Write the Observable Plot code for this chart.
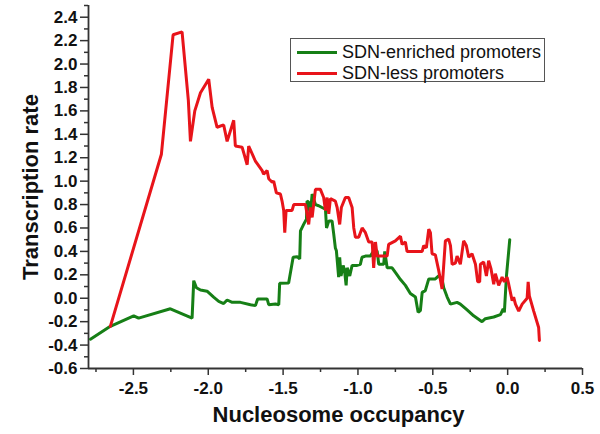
<!DOCTYPE html>
<html>
<head>
<meta charset="utf-8">
<script src="https://cdn.jsdelivr.net/npm/d3@7"></script>
<script src="https://cdn.jsdelivr.net/npm/@observablehq/plot@0.6"></script>
<style>
  html, body { margin: 0; padding: 0; background: #fff; }
  #wrap { position: relative; width: 600px; height: 434px; font-family: "Liberation Sans", Arial, sans-serif; }
  #legend { position: absolute; left: 290px; top: 38px; width: 255px; height: 44px; border: 1px solid #555; background: #fff; box-sizing: border-box; }
  .row { position: absolute; left: 6px; height: 20px; display: flex; align-items: center; font-size: 18px; color: #111; white-space: nowrap; }
  .sw { width: 40px; height: 3px; margin-right: 5px; }
</style>
</head>
<body>
<div id="wrap"></div>
<script>
const seriesNames = ["SDN-enriched promoters", "SDN-less promoters"];
const seriesColors = ["#167f16", "#e8141a"];

const greenX = [-2.787,-2.654,-2.498,-2.465,-2.253,-2.108,-2.097,-2.079,-2.052,-2.008,-1.964,-1.93,-1.897,-1.874,-1.84,-1.785,-1.718,-1.685,-1.67,-1.607,-1.596,-1.551,-1.529,-1.523,-1.463,-1.433,-1.406,-1.389,-1.384,-1.362,-1.344,-1.34,-1.329,-1.318,-1.306,-1.284,-1.262,-1.24,-1.217,-1.21,-1.195,-1.173,-1.162,-1.151,-1.144,-1.129,-1.122,-1.113,-1.099,-1.09,-1.079,-1.072,-1.055,-1.039,-1.006,-0.984,-0.973,-0.95,-0.917,-0.895,-0.872,-0.861,-0.828,-0.821,-0.805,-0.772,-0.75,-0.716,-0.683,-0.65,-0.616,-0.598,-0.583,-0.571,-0.55,-0.527,-0.483,-0.461,-0.438,-0.427,-0.404,-0.382,-0.338,-0.316,-0.271,-0.227,-0.171,-0.149,-0.093,-0.048,-0.03,-0.022,-0.008,0.014];
const greenY = [-0.35,-0.24,-0.15,-0.17,-0.09,-0.17,0.15,0.09,0.07,0.06,0.01,-0.026,-0.045,-0.015,-0.035,-0.035,-0.055,-0.063,-0.006,-0.006,-0.055,-0.05,-0.055,0.127,0.13,0.35,0.355,0.335,0.576,0.633,0.676,0.83,0.82,0.72,0.89,0.80,0.79,0.775,0.76,0.60,0.66,0.66,0.55,0.43,0.405,0.18,0.35,0.19,0.28,0.24,0.11,0.26,0.19,0.28,0.28,0.29,0.35,0.36,0.36,0.405,0.405,0.29,0.29,0.40,0.26,0.26,0.22,0.16,0.11,0.04,0.01,-0.12,-0.105,0.05,0.065,0.165,0.165,0.19,0.165,0.09,0.01,-0.05,-0.035,-0.05,-0.10,-0.15,-0.20,-0.175,-0.16,-0.14,-0.09,-0.12,0.19,0.50];

const redX = [-2.654,-2.313,-2.235,-2.175,-2.133,-2.119,-2.09,-2.052,-1.997,-1.974,-1.941,-1.897,-1.874,-1.83,-1.819,-1.774,-1.74,-1.73,-1.685,-1.64,-1.63,-1.607,-1.596,-1.573,-1.563,-1.545,-1.518,-1.507,-1.496,-1.489,-1.48,-1.44,-1.429,-1.351,-1.34,-1.329,-1.318,-1.306,-1.284,-1.251,-1.229,-1.217,-1.206,-1.195,-1.184,-1.151,-1.139,-1.122,-1.111,-1.084,-1.062,-1.039,-1.028,-1.017,-0.995,-0.972,-0.95,-0.928,-0.905,-0.895,-0.883,-0.872,-0.85,-0.805,-0.795,-0.75,-0.716,-0.705,-0.683,-0.672,-0.571,-0.561,-0.543,-0.527,-0.516,-0.505,-0.483,-0.461,-0.438,-0.416,-0.394,-0.382,-0.371,-0.349,-0.338,-0.316,-0.294,-0.276,-0.26,-0.238,-0.215,-0.2,-0.187,-0.182,-0.16,-0.142,-0.127,-0.111,-0.093,-0.082,-0.06,-0.037,-0.022,-0.004,0.007,0.03,0.04,0.052,0.074,0.097,0.13,0.137,0.145,0.174,0.207,0.212];
const redY = [-0.24,1.23,2.25,2.275,1.69,1.34,1.60,1.755,1.87,1.63,1.46,1.48,1.34,1.52,1.30,1.29,1.14,1.30,1.17,1.09,1.06,1.09,1.02,0.99,1.00,0.90,0.89,0.83,0.75,0.56,0.75,0.75,0.80,0.80,0.72,0.63,0.775,0.69,0.93,0.93,0.86,0.75,0.86,0.72,0.85,0.83,0.775,0.63,0.775,0.86,0.86,0.775,0.60,0.52,0.52,0.60,0.56,0.48,0.48,0.26,0.48,0.36,0.36,0.36,0.46,0.49,0.53,0.46,0.48,0.40,0.40,0.45,0.43,0.59,0.56,0.38,0.37,0.24,0.08,0.49,0.505,0.45,0.29,0.30,0.36,0.29,0.49,0.45,0.35,0.38,0.29,0.14,0.14,0.29,0.31,0.19,0.32,0.25,0.12,0.21,0.11,0.18,0.14,0.18,0.12,-0.02,0.01,-0.05,-0.11,-0.05,0.0,0.14,0.02,-0.11,-0.25,-0.36];

const yMajor = [-0.6,-0.4,-0.2,0.0,0.2,0.4,0.6,0.8,1.0,1.2,1.4,1.6,1.8,2.0,2.2,2.4];
const yMinor = [-0.5,-0.3,-0.1,0.1,0.3,0.5,0.7,0.9,1.1,1.3,1.5,1.7,1.9,2.1,2.3,2.5];
const xMajor = [-2.5,-2.0,-1.5,-1.0,-0.5,0.0,0.5];
const xMinor = [-2.75,-2.25,-1.75,-1.25,-0.75,-0.25,0.25];
const xDomain = [-2.8, 0.5];
const yDomain = [-0.6, 2.5];
const xTitle = "Nucleosome occupancy";
const yTitle = "Transcription rate";

const green = greenX.map((x, i) => ({x, y: greenY[i]}));
const red = redX.map((x, i) => ({x, y: redY[i]}));
const axisColor = "#333";
const fmt = d => (Math.abs(d) < 1e-9 ? 0 : d).toFixed(1);

const chart = Plot.plot({
  width: 600,
  height: 434,
  marginLeft: 88,
  marginRight: 18,
  marginTop: 5,
  marginBottom: 66,
  style: {fontFamily: "'Liberation Sans', Arial, sans-serif", fontSize: "17px", fontWeight: "bold", color: "#111", background: "#fff"},
  x: {domain: xDomain, axis: null},
  y: {domain: yDomain, axis: null},
  marks: [
    Plot.axisY(yMajor, {label: null, tickSize: 8, tickPadding: 3, tickFormat: fmt, stroke: axisColor, strokeWidth: 1.5, fill: "#111", fontSize: 17, fontWeight: "bold"}),
    Plot.axisY(yMinor, {label: null, tickSize: 4, tickFormat: () => "", stroke: axisColor, strokeWidth: 1.5}),
    Plot.axisX(xMajor, {label: null, tickSize: 7, tickPadding: 6, tickFormat: fmt, stroke: axisColor, strokeWidth: 1.5, fill: "#111", fontSize: 17, fontWeight: "bold"}),
    Plot.axisX(xMinor, {label: null, tickSize: 4, tickFormat: () => "", stroke: axisColor, strokeWidth: 1.5}),
    Plot.ruleX([xDomain[0]], {stroke: axisColor, strokeWidth: 1.8}),
    Plot.ruleY([yDomain[0]], {stroke: axisColor, strokeWidth: 1.8}),
    Plot.line(green, {x: "x", y: "y", stroke: seriesColors[0], strokeWidth: 3, strokeLinejoin: "miter"}),
    Plot.line(red, {x: "x", y: "y", stroke: seriesColors[1], strokeWidth: 3, strokeLinejoin: "miter"}),
    Plot.text([yTitle], {frameAnchor: "left", dx: -58, rotate: -90, fontSize: 22, fontWeight: "bold", fill: "#111", textAnchor: "middle"}),
    Plot.text([xTitle], {frameAnchor: "bottom", dy: 46, dx: 3, fontSize: 22, fontWeight: "bold", fill: "#111", textAnchor: "middle", lineAnchor: "middle"})
  ]
});

const wrap = document.getElementById("wrap");
wrap.appendChild(chart);
const legend = document.createElement("div");
legend.id = "legend";
seriesNames.forEach((name, i) => {
  const row = document.createElement("div");
  row.className = "row";
  row.style.top = (i === 0 ? 3 : 24) + "px";
  const sw = document.createElement("div");
  sw.className = "sw";
  sw.style.background = seriesColors[i];
  row.appendChild(sw);
  const t = document.createElement("span");
  t.textContent = name;
  row.appendChild(t);
  legend.appendChild(row);
});
wrap.appendChild(legend);
</script>
</body>
</html>
